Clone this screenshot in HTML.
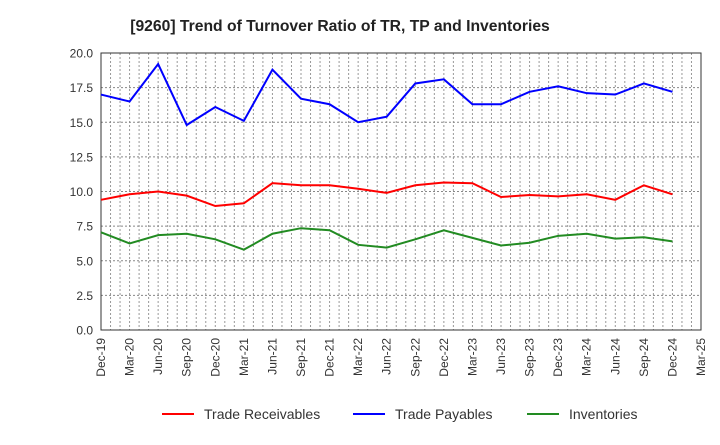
<!DOCTYPE html>
<html><head><meta charset="utf-8"><style>
body{margin:0;background:#fff;font-family:"Liberation Sans",sans-serif}
</style></head><body>
<svg id="c" width="720" height="440" xmlns="http://www.w3.org/2000/svg" font-family="Liberation Sans, sans-serif">
<text x="340" y="31" text-anchor="middle" font-size="15.7" font-weight="bold" fill="#222">[9260]  Trend of Turnover Ratio of TR, TP and Inventories</text>
<g id="grid"></g><g id="axes"></g><g id="series"></g><g id="legend"></g>
</svg>
<script>
const categories=["Dec-19","Mar-20","Jun-20","Sep-20","Dec-20","Mar-21","Jun-21","Sep-21","Dec-21","Mar-22","Jun-22","Sep-22","Dec-22","Mar-23","Jun-23","Sep-23","Dec-23","Mar-24","Jun-24","Sep-24","Dec-24","Mar-25"];
const receivables=[9.4,9.8,10.0,9.7,8.95,9.15,10.6,10.45,10.45,10.2,9.9,10.45,10.65,10.6,9.6,9.75,9.65,9.8,9.4,10.45,9.8];
const payables=[17.0,16.5,19.2,14.8,16.1,15.1,18.8,16.7,16.3,15.0,15.4,17.8,18.1,16.3,16.3,17.2,17.6,17.1,17.0,17.8,17.2];
const inventories=[7.05,6.25,6.85,6.95,6.55,5.8,6.95,7.35,7.2,6.15,5.95,6.55,7.2,6.65,6.1,6.3,6.8,6.95,6.6,6.7,6.4];
const yTicks=["0.0","2.5","5.0","7.5","10.0","12.5","15.0","17.5","20.0"];
const seriesNames=["Trade Receivables","Trade Payables","Inventories"];
const NS="http://www.w3.org/2000/svg";
const L=101,R=701,T=53,B=330,yMax=20;
const n=categories.length-1;
const x=i=>L+(R-L)*i/n;
const y=v=>B-(B-T)*v/yMax;
function mk(tag,attrs,parent){const e=document.createElementNS(NS,tag);for(const k in attrs)e.setAttribute(k,attrs[k]);parent.appendChild(e);return e;}
const grid=document.getElementById('grid'),axes=document.getElementById('axes'),ser=document.getElementById('series'),leg=document.getElementById('legend');
for(let m=1;m<n*3;m++){const xx=L+(R-L)*m/(n*3);const g=mk('line',{x1:xx,x2:xx,y1:T,y2:B,stroke:'#999','stroke-dasharray':'2,2','stroke-width':1},grid);

}
yTicks.forEach(t=>{const v=parseFloat(t);const yy=y(v);
if(v>0&&v<yMax){const g=mk('line',{x1:L,x2:R,y1:yy,y2:yy,stroke:'#888','stroke-dasharray':'2,2','stroke-width':1},grid);

}
const tk=mk('text',{x:L-8,y:yy+4.5,'text-anchor':'end','font-size':12,fill:'#333'},axes);tk.textContent=t;

});
categories.forEach((c,i)=>{const xx=x(i);const tl=mk('text',{x:xx+4,y:B+8,'text-anchor':'end','font-size':12,fill:'#333',transform:`rotate(-90 ${xx+4} ${B+8})`},axes);tl.textContent=c;

});
const fr=mk('rect',{x:L,y:T,width:R-L,height:B-T,fill:'none',stroke:'#333','stroke-width':1},axes);


const data=[receivables,payables,inventories],colors=['#ff0000','#0000ff','#228b22'],names=['trade-receivables-line','trade-payables-line','inventories-line'];
data.forEach((d,s)=>{const p=mk('polyline',{points:d.map((v,i)=>x(i)+','+y(v)).join(' '),fill:'none',stroke:colors[s],'stroke-width':2},ser);

});
const lx=[162,353,527];
seriesNames.forEach((nm,s)=>{const g=mk('g',{},leg);


mk('line',{x1:lx[s],x2:lx[s]+32,y1:414,y2:414,stroke:colors[s],'stroke-width':2},g);
const t=mk('text',{x:lx[s]+42,y:419,'font-size':14,fill:'#333'},g);t.textContent=nm;});
</script>
</body></html>
